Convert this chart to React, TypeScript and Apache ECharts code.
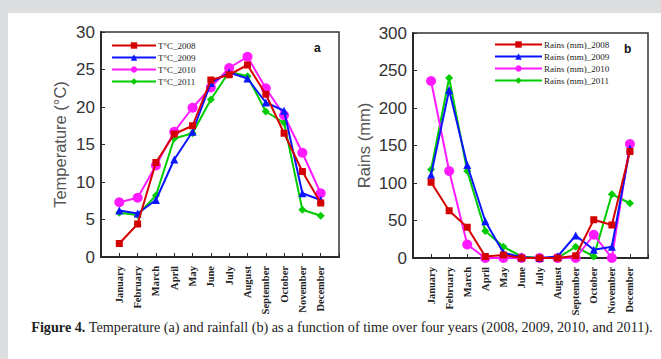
import React, { useEffect, useRef } from "react";
import * as echarts from "echarts";

const months = ["January", "February", "March", "April", "May", "June", "July", "August", "September", "October", "November", "December"];
const tempTicks = [0, 5, 10, 15, 20, 25, 30];
const rainTicks = [0, 50, 100, 150, 200, 250, 300];

const temp2008 = [1.8, 4.4, 12.6, 16.4, 17.5, 23.6, 24.3, 25.6, 21.7, 16.5, 11.4, 7.2];
const temp2009 = [6.2, 5.8, 7.6, 13.0, 16.7, 23.2, 24.6, 23.8, 20.6, 19.5, 8.5, 7.6];
const temp2010 = [7.3, 7.9, 12.2, 16.7, 19.9, 22.6, 25.2, 26.7, 22.5, 18.9, 13.9, 8.5];
const temp2011 = [5.9, 5.6, 8.2, 15.8, 16.5, 21.0, 24.7, 24.1, 19.4, 17.9, 6.3, 5.5];

const rain2008 = [101, 63, 41, 2, 4, 0, 0, 0, 3, 51, 44, 142];
const rain2009 = [111, 224, 124, 49, 7, 1, 0, 2, 30, 11, 15, 146];
const rain2010 = [236, 116, 18, 0, 0, 0, 0, 0, 0, 31, 0, 152];
const rain2011 = [118, 240, 116, 36, 15, 2, 0, 0, 15, 2, 85, 73];

const tempNames = ["T°C_2008", "T°C_2009", "T°C_2010", "T°C_2011"];
const rainNames = ["Rains (mm)_2008", "Rains (mm)_2009", "Rains (mm)_2010", "Rains (mm)_2011"];

const colors = ["#d40000", "#0a14ff", "#ff1aff", "#00cc00"];
const symbols = ["rect", "triangle", "circle", "diamond"];
const symbolSizes = [7, 8, 10, 8];

const toPairs = (vals: number[]) => vals.map((v, i) => [i + 1, v]);

export default function App() {
  const ref = useRef<HTMLDivElement>(null);
  useEffect(() => {
    document.body.style.margin = "0";
    if (!ref.current) return;
    const chart = echarts.init(ref.current, null, { renderer: "svg" });
    const axisColor = "#2a2a2a";
    const makeX = (gridIndex: number) => ({
      type: "value",
      gridIndex,
      min: 0,
      max: 13,
      interval: 1,
      splitLine: { show: false },
      axisLine: { lineStyle: { color: axisColor, width: 2 } },
      axisTick: { inside: true, length: 4, lineStyle: { color: axisColor, width: 1 } },
      axisLabel: {
        rotate: 90,
        margin: 9,
        fontFamily: "Liberation Serif",
        fontWeight: "bold",
        fontSize: 10.5,
        color: "#222",
        formatter: (v: number) => (v >= 1 && v <= 12 ? months[v - 1] : ""),
      },
    });
    const makeY = (gridIndex: number, ticks: number[], name: string, gap: number) => ({
      type: "value",
      gridIndex,
      min: ticks[0],
      max: ticks[ticks.length - 1],
      interval: ticks[1] - ticks[0],
      name,
      nameLocation: "middle",
      nameGap: gap,
      nameTextStyle: { fontFamily: "Liberation Sans", fontSize: 16.5, color: "#555" },
      splitLine: { show: false },
      axisLine: { lineStyle: { color: axisColor, width: 2 } },
      axisTick: { inside: true, length: 4, lineStyle: { color: axisColor, width: 1 } },
      axisLabel: { margin: 6, fontFamily: "Liberation Sans", fontSize: 17, color: "#333" },
    });
    const makeSeries = (names: string[], data: number[][], xi: number) =>
      names.map((n, i) => ({
        type: "line",
        name: n,
        xAxisIndex: xi,
        yAxisIndex: xi,
        data: toPairs(data[i]),
        symbol: symbols[i],
        symbolSize: symbolSizes[i],
        showAllSymbol: true,
        itemStyle: { color: colors[i] },
        lineStyle: { color: colors[i], width: 2 },
        z: 2 + (names.length - i),
      }));
    const legendText = { fontFamily: "Liberation Serif", fontSize: 9, color: "#222", padding: [0, 0, 0, -3] };
    chart.setOption({
      animation: false,
      backgroundColor: "transparent",
      grid: [
        { left: 101, top: 32, width: 238, height: 225, show: true, borderColor: "#333", borderWidth: 1.5, backgroundColor: "#fff" },
        { left: 413, top: 33, width: 235, height: 225, show: true, borderColor: "#333", borderWidth: 1.5, backgroundColor: "#fff" },
      ],
      xAxis: [makeX(0), makeX(1)],
      yAxis: [makeY(0, tempTicks, "Temperature (°C)", 33), makeY(1, rainTicks, "Rains (mm)", 41)],
      legend: [
        { data: tempNames, orient: "vertical", left: 111, top: 41, itemWidth: 44, itemHeight: 8, itemGap: 3, padding: 0, textStyle: legendText },
        { data: rainNames, orient: "vertical", left: 494, top: 40, itemWidth: 47, itemHeight: 8, itemGap: 3, padding: 0, textStyle: legendText },
      ],
      series: [
        ...makeSeries(tempNames, [temp2008, temp2009, temp2010, temp2011], 0),
        ...makeSeries(rainNames, [rain2008, rain2009, rain2010, rain2011], 1),
      ],
      graphic: [
        { type: "text", left: 314, top: 42, style: { text: "a", font: "bold 12px Liberation Sans", fill: "#111" } },
        { type: "text", left: 624, top: 43, style: { text: "b", font: "bold 12px Liberation Sans", fill: "#111" } },
        {
          type: "text",
          x: 342,
          y: 327,
          style: {
            text: "{b|Figure 4.} Temperature (a) and rainfall (b) as a function of time over four years (2008, 2009, 2010, and 2011).",
            fontFamily: "Liberation Serif",
            fontSize: 14.2,
            fill: "#222",
            align: "center",
            verticalAlign: "middle",
            rich: { b: { fontFamily: "Liberation Serif", fontSize: 14.2, fontWeight: "bold", fill: "#222" } },
          },
        },
      ],
    });
    return () => chart.dispose();
  }, []);
  return (
    <div style={{ position: "relative", width: 661, height: 359, background: "#dcdddf", overflow: "hidden" }}>
      <div style={{ position: "absolute", left: 8, top: 13, right: 0, bottom: 0, background: "#fff" }} />
      <div ref={ref} style={{ position: "absolute", left: 0, top: 0, width: 661, height: 359 }} />
    </div>
  );
}
